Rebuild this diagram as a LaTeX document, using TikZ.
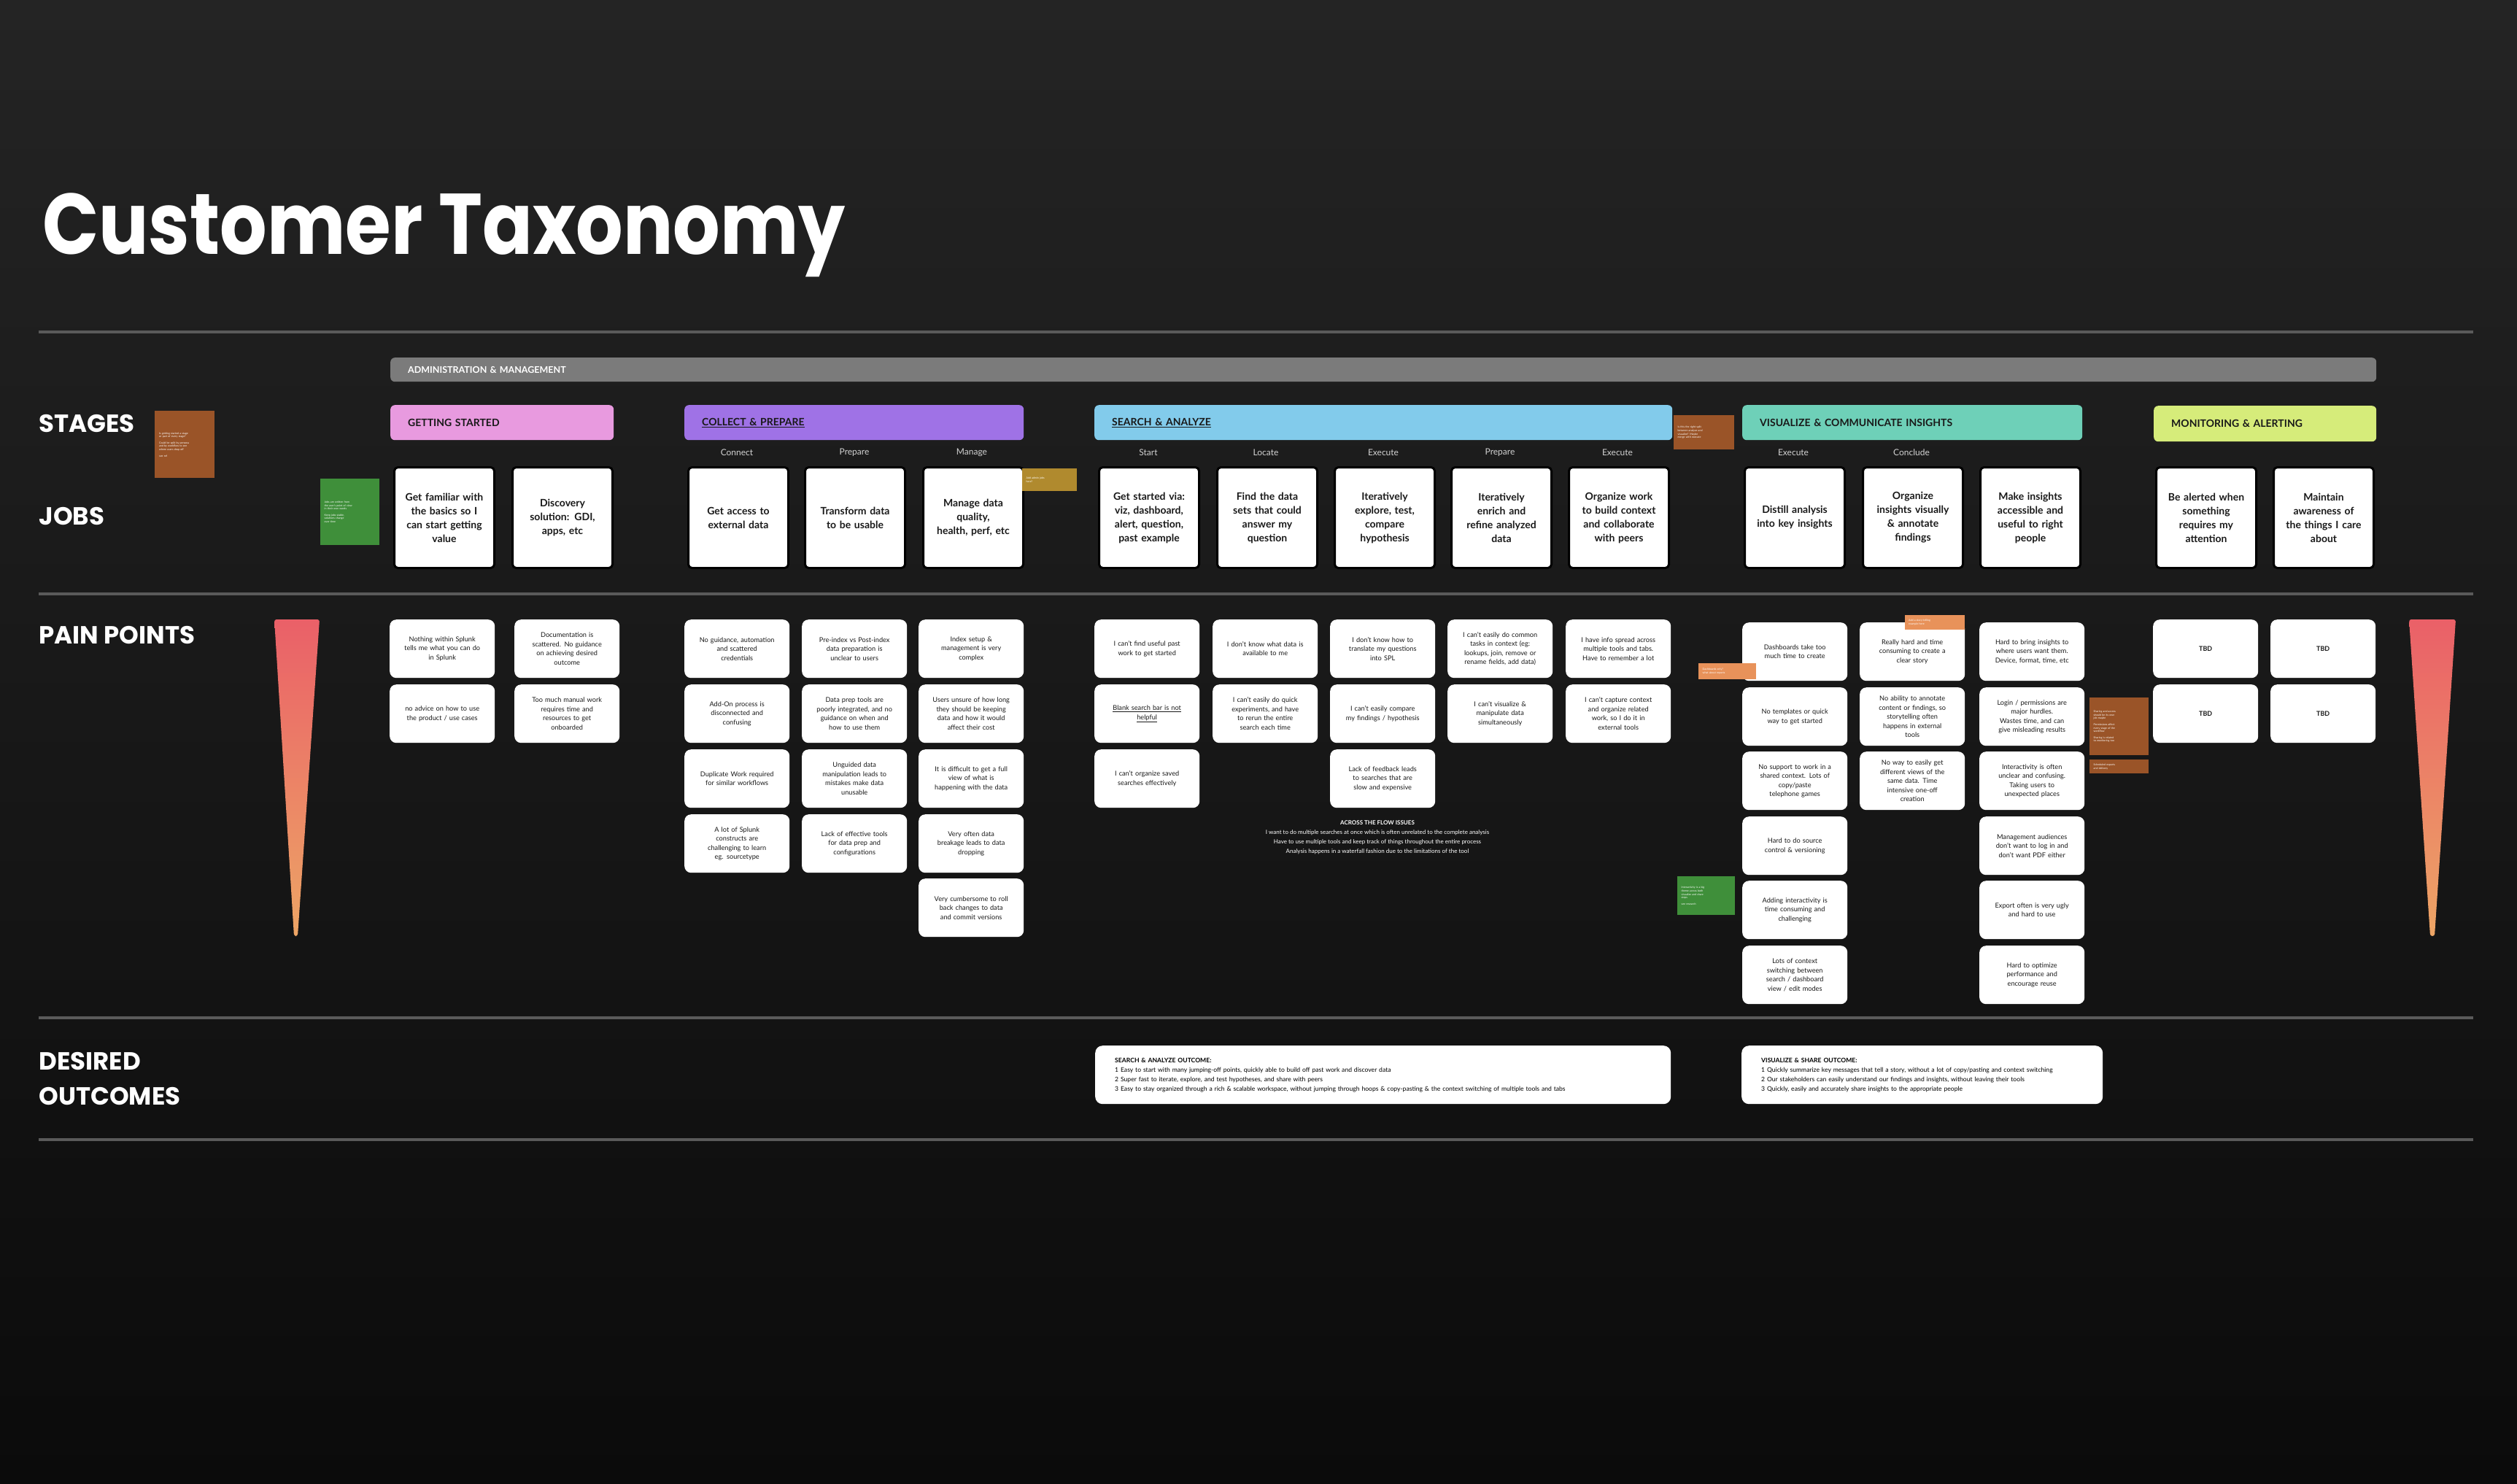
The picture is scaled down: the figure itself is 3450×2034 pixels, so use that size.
\documentclass[tikz,border=0pt]{standalone}
\usepackage{fontspec}
\setmainfont{Lato}
\newfontfamily\headfont{Poppins}
\newfontfamily\titlefont{Poppins}[FakeStretch=0.86]
\definecolor{bgtop}{HTML}{242424}
\definecolor{bgbot}{HTML}{0B0B0B}
\definecolor{rulec}{HTML}{5A5A5A}
\definecolor{adminc}{HTML}{7B7B7B}
\definecolor{pinkc}{HTML}{E89ADF}
\definecolor{purplec}{HTML}{9F72E6}
\definecolor{bluec}{HTML}{82CBEB}
\definecolor{tealc}{HTML}{6ED0B8}
\definecolor{limec}{HTML}{D6EC7A}
\definecolor{brownc}{HTML}{9A5428}
\definecolor{greenc}{HTML}{3F8F3A}
\definecolor{goldc}{HTML}{B08A2E}
\definecolor{lorangec}{HTML}{E8925A}
\definecolor{redtop}{HTML}{EA6068}
\definecolor{orbot}{HTML}{EDA565}
\definecolor{sublabel}{HTML}{D2D2D2}
\tikzset{
  jobbox/.style={draw=black, line width=3pt, fill=white, rounded corners=5pt,
    minimum width=137pt, minimum height=138pt, text width=126pt, align=center,
    inner sep=0pt, anchor=north west, text=black!90,
    font=\fontsize{14}{19}\selectfont\bfseries},
  painbox/.style={fill=white, rounded corners=9pt, minimum width=144pt,
    minimum height=80pt, text width=126pt, align=center, inner sep=0pt,
    anchor=north west, text=black!90, font=\fontsize{9.2}{12.5}\selectfont},
  stagebar/.style={rounded corners=6pt, minimum height=48pt, inner xsep=24pt,
    inner ysep=0pt, anchor=north west, align=left, text=black!90,
    font=\fontsize{14}{16}\selectfont\bfseries},
  sublab/.style={text=sublabel, font=\fontsize{12}{14}\selectfont},
  rowlab/.style={anchor=west, text=white, align=left,
    font=\headfont\fontsize{34}{48}\selectfont\bfseries},
  sticky/.style={anchor=north west, inner sep=3pt, align=left, text=white,
    font=\fontsize{3.6}{4.6}\selectfont},
  outbox/.style={fill=white, rounded corners=10pt, anchor=north west,
    minimum height=80pt, inner xsep=27pt, align=left, text=black,
    font=\fontsize{8.6}{13}\selectfont},
  hrule/.style={draw=rulec, line width=4pt}
}
\begin{document}
\begin{tikzpicture}[x=1pt,y=-1pt]
% background
\shade[top color=bgtop, bottom color=bgbot] (0,0) rectangle (3450,2034);
\useasboundingbox (0,0) rectangle (3450,2034);

% title
\node[anchor=base west, inner sep=0pt, text=white,
  font=\titlefont\fontsize{118}{130}\selectfont\bfseries] (title) at (58,348) {Customer Taxonomy};

% rules
\coordinate (r1a) at (53,455); \coordinate (r1b) at (3390,455);
\coordinate (r2a) at (53,814); \coordinate (r2b) at (3390,814);
\coordinate (r3a) at (53,1395); \coordinate (r3b) at (3390,1395);
\coordinate (r4a) at (53,1562); \coordinate (r4b) at (3390,1562);
\draw[hrule] (r1a) -- (r1b);
\draw[hrule] (r2a) -- (r2b);
\draw[hrule] (r3a) -- (r3b);
\draw[hrule] (r4a) -- (r4b);

% row labels
\node[rowlab] (lstages) at (50,581) {STAGES};
\node[rowlab] (ljobs) at (50,708) {JOBS};
\node[rowlab] (lpain) at (50,871) {PAIN POINTS};
\node[rowlab] (ldes) at (50,1478) {DESIRED\\OUTCOMES};

% admin bar
\node[stagebar, fill=adminc, minimum width=2722pt, minimum height=33pt, text width=2674pt,
  text=white, font=\fontsize{12.5}{14}\selectfont\bfseries] (admin) at (535,490) {ADMINISTRATION \& MANAGEMENT};

% stage bars
\node[stagebar, fill=pinkc, minimum width=306pt, text width=258pt] (gs) at (535,555) {GETTING STARTED};
\node[stagebar, fill=purplec, minimum width=465pt, text width=417pt] (cp) at (938,555) {\underline{COLLECT \& PREPARE}};
\node[stagebar, fill=bluec, minimum width=792pt, text width=744pt] (sa) at (1500,555) {\underline{SEARCH \& ANALYZE}};
\node[stagebar, fill=tealc, minimum width=466pt, text width=418pt] (vc) at (2388,555) {VISUALIZE \& COMMUNICATE INSIGHTS};
\node[stagebar, fill=limec, minimum width=305pt, text width=257pt, minimum height=49pt] (ma) at (2952,556) {MONITORING \& ALERTING};

% sub labels
\node[sublab] (s1) at (1010,620) {Connect};
\node[sublab] (s2) at (1171,620) {Prepare};
\node[sublab] (s3) at (1332,620) {Manage};
\node[sublab] (s4) at (1574,620) {Start};
\node[sublab] (s5) at (1735,620) {Locate};
\node[sublab] (s6) at (1896,620) {Execute};
\node[sublab] (s7) at (2056,620) {Prepare};
\node[sublab] (s8) at (2217,620) {Execute};
\node[sublab] (s9) at (2458,620) {Execute};
\node[sublab] (s10) at (2620,620) {Conclude};

% jobs
\node[jobbox] (j1) at (539,639) {Get familiar with\\the basics so I\\can start getting\\value};
\node[jobbox] (j2) at (701,639) {Discovery\\solution: GDI,\\apps, etc};
\node[jobbox] (j3) at (942,639) {Get access to\\external data};
\node[jobbox] (j4) at (1102,639) {Transform data\\to be usable};
\node[jobbox] (j5) at (1264,639) {Manage data\\quality,\\health, perf, etc};
\node[jobbox] (j6) at (1505,639) {Get started via:\\viz, dashboard,\\alert, question,\\past example};
\node[jobbox] (j7) at (1667,639) {Find the data\\sets that could\\answer my\\question};
\node[jobbox] (j8) at (1828,639) {Iteratively\\explore, test,\\compare\\hypothesis};
\node[jobbox] (j9) at (1988,639) {Iteratively\\enrich and\\refine analyzed\\data};
\node[jobbox] (j10) at (2149,639) {Organize work\\to build context\\and collaborate\\with peers};
\node[jobbox] (j11) at (2390,639) {Distill analysis\\into key insights};
\node[jobbox] (j12) at (2552,639) {Organize\\insights visually\\\& annotate\\findings};
\node[jobbox] (j13) at (2713,639) {Make insights\\accessible and\\useful to right\\people};
\node[jobbox] (j14) at (2954,639) {Be alerted when\\something\\requires my\\attention};
\node[jobbox] (j15) at (3115,639) {Maintain\\awareness of\\the things I care\\about};

% pain gradient bars
\shade[top color=redtop, bottom color=orbot, rounded corners=3pt] (376,849) -- (438,849) -- (408,1283) -- (403,1283) -- cycle;
\shade[top color=redtop, bottom color=orbot, rounded corners=3pt] (3302,849) -- (3366,849) -- (3337,1283) -- (3331,1283) -- cycle;

% getting started pains
\node[painbox] (p1) at (534,849) {Nothing within Splunk\\tells me what you can do\\in Splunk};
\node[painbox] (p2) at (534,938) {no advice on how to use\\the product / use cases};
\node[painbox] (p3) at (705,849) {Documentation is\\scattered. No guidance\\on achieving desired\\outcome};
\node[painbox] (p4) at (705,938) {Too much manual work\\requires time and\\resources to get\\onboarded};

% collect & prepare pains
\node[painbox] (p5) at (938,849) {No guidance, automation\\and scattered\\credentials};
\node[painbox] (p6) at (938,938) {Add-On process is\\disconnected and\\confusing};
\node[painbox] (p7) at (938,1027) {Duplicate Work required\\for similar workflows};
\node[painbox] (p8) at (938,1116) {A lot of Splunk\\constructs are\\challenging to learn\\eg. sourcetype};
\node[painbox] (p9) at (1099,849) {Pre-index vs Post-index\\data preparation is\\unclear to users};
\node[painbox] (p10) at (1099,938) {Data prep tools are\\poorly integrated, and no\\guidance on when and\\how to use them};
\node[painbox] (p11) at (1099,1027) {Unguided data\\manipulation leads to\\mistakes make data\\unusable};
\node[painbox] (p12) at (1099,1116) {Lack of effective tools\\for data prep and\\configurations};
\node[painbox] (p13) at (1259,849) {Index setup \&\\management is very\\complex};
\node[painbox] (p14) at (1259,938) {Users unsure of how long\\they should be keeping\\data and how it would\\affect their cost};
\node[painbox] (p15) at (1259,1027) {It is difficult to get a full\\view of what is\\happening with the data};
\node[painbox] (p16) at (1259,1116) {Very often data\\breakage leads to data\\dropping};
\node[painbox] (p17) at (1259,1204) {Very cumbersome to roll\\back changes to data\\and commit versions};

% search & analyze pains
\node[painbox] (p18) at (1500,849) {I can't find useful past\\work to get started};
\node[painbox] (p19) at (1500,938) {\underline{Blank search bar is not}\\\underline{helpful}};
\node[painbox] (p20) at (1500,1027) {I can't organize saved\\searches effectively};
\node[painbox] (p21) at (1662,849) {I don't know what data is\\available to me};
\node[painbox] (p22) at (1662,938) {I can't easily do quick\\experiments, and have\\to rerun the entire\\search each time};
\node[painbox] (p23) at (1823,849) {I don't know how to\\translate my questions\\into SPL};
\node[painbox] (p24) at (1823,938) {I can't easily compare\\my findings / hypothesis};
\node[painbox] (p25) at (1823,1027) {Lack of feedback leads\\to searches that are\\slow and expensive};
\node[painbox] (p26) at (1984,849) {I can't easily do common\\tasks in context (eg:\\lookups, join, remove or\\rename fields, add data)};
\node[painbox] (p27) at (1984,938) {I can't visualize \&\\manipulate data\\simultaneously};
\node[painbox] (p28) at (2146,849) {I have info spread across\\multiple tools and tabs.\\Have to remember a lot};
\node[painbox] (p29) at (2146,938) {I can't capture context\\and organize related\\work, so I do it in\\external tools};

% across the flow
\node[align=center, text=white, inner sep=0pt, font=\fontsize{8}{13}\selectfont] (across) at (1888,1148)
  {\textbf{ACROSS THE FLOW ISSUES}\\I want to do multiple searches at once which is often unrelated to the complete analysis\\Have to use multiple tools and keep track of things throughout the entire process\\Analysis happens in a waterfall fashion due to the limitations of the tool};

% visualize pains
\node[painbox] (p30) at (2388,853) {Dashboards take too\\much time to create};
\node[painbox] (p31) at (2388,942) {No templates or quick\\way to get started};
\node[painbox] (p32) at (2388,1030) {No support to work in a\\shared context. Lots of\\copy/paste\\telephone games};
\node[painbox] (p33) at (2388,1119) {Hard to do source\\control \& versioning};
\node[painbox] (p34) at (2388,1207) {Adding interactivity is\\time consuming and\\challenging};
\node[painbox] (p35) at (2388,1296) {Lots of context\\switching between\\search / dashboard\\view / edit modes};
\node[painbox] (p36) at (2549,853) {Really hard and time\\consuming to create a\\clear story};
\node[painbox] (p37) at (2549,942) {No ability to annotate\\content or findings, so\\storytelling often\\happens in external\\tools};
\node[painbox] (p38) at (2549,1030) {No way to easily get\\different views of the\\same data. Time\\intensive one-off\\creation};
\node[painbox] (p39) at (2713,853) {Hard to bring insights to\\where users want them.\\Device, format, time, etc};
\node[painbox] (p40) at (2713,942) {Login / permissions are\\major hurdles.\\Wastes time, and can\\give misleading results};
\node[painbox] (p41) at (2713,1030) {Interactivity is often\\unclear and confusing.\\Taking users to\\unexpected places};
\node[painbox] (p42) at (2713,1119) {Management audiences\\don't want to log in and\\don't want PDF either};
\node[painbox] (p43) at (2713,1207) {Export often is very ugly\\and hard to use};
\node[painbox] (p44) at (2713,1296) {Hard to optimize\\performance and\\encourage reuse};

% monitoring pains
\node[painbox, font=\fontsize{9}{12}\selectfont\bfseries] (p45) at (2951,849) {TBD};
\node[painbox, font=\fontsize{9}{12}\selectfont\bfseries] (p46) at (3112,849) {TBD};
\node[painbox, font=\fontsize{9}{12}\selectfont\bfseries] (p47) at (2951,938) {TBD};
\node[painbox, font=\fontsize{9}{12}\selectfont\bfseries] (p48) at (3112,938) {TBD};

% sticky notes
\node[sticky, fill=brownc, minimum width=82pt, minimum height=92pt, text width=70pt] (n1) at (212,563)
  {Is getting started a stage\\or part of every stage?\\[4pt]Could be split by persona\\and by workflow to see\\where users drop off\\[4pt]see ref};
\node[sticky, fill=greenc, minimum width=81pt, minimum height=91pt, text width=70pt] (n2) at (439,656)
  {Jobs are written from\\the user's point of view\\in their own words\\[4pt]Keep jobs stable,\\solutions change\\over time};
\node[sticky, fill=goldc, minimum width=75pt, minimum height=31pt, text width=64pt] (n3) at (1401,642)
  {Add admin jobs\\here?};
\node[sticky, fill=brownc, minimum width=83pt, minimum height=47pt, text width=72pt] (n4) at (2294,569)
  {Is this the right split\\between analyze and\\visualize? Maybe\\merge with execute};
\node[sticky, fill=lorangec, minimum width=79pt, minimum height=22pt, text width=68pt] (n5) at (2328,909)
  {Dashboards only?\\what about reports};
\node[sticky, fill=lorangec, minimum width=82pt, minimum height=20pt, text width=72pt] (n6) at (2611,843)
  {Add a story-telling\\example here};
\node[sticky, fill=brownc, minimum width=81pt, minimum height=79pt, text width=70pt] (n7) at (2864,956)
  {Sharing and access\\should be its own\\job maybe\\[4pt]Permissions affect\\every stage of the\\workflow\\[4pt]Sharing is related\\to monitoring too};
\node[sticky, fill=brownc, minimum width=81pt, minimum height=19pt, text width=70pt] (n8) at (2864,1041)
  {Scheduled exports\\and delivery};
\node[sticky, fill=greenc, minimum width=79pt, minimum height=53pt, text width=68pt] (n9) at (2299,1201)
  {Interactivity is a big\\theme across both\\visualize and share\\steps\\[4pt]see research};

% desired outcomes
\node[outbox, minimum width=789pt, text width=735pt] (o1) at (1501,1433)
  {\textbf{SEARCH \& ANALYZE OUTCOME:}\\
   1 Easy to start with many jumping-off points, quickly able to build off past work and discover data\\
   2 Super fast to iterate, explore, and test hypotheses, and share with peers\\
   3 Easy to stay organized through a rich \& scalable workspace, without jumping through hoops \& copy-pasting \& the context switching of multiple tools and tabs};
\node[outbox, minimum width=495pt, text width=441pt] (o2) at (2387,1433)
  {\textbf{VISUALIZE \& SHARE OUTCOME:}\\
   1 Quickly summarize key messages that tell a story, without a lot of copy/pasting and context switching\\
   2 Our stakeholders can easily understand our findings and insights, without leaving their tools\\
   3 Quickly, easily and accurately share insights to the appropriate people};
\end{tikzpicture}
\end{document}
